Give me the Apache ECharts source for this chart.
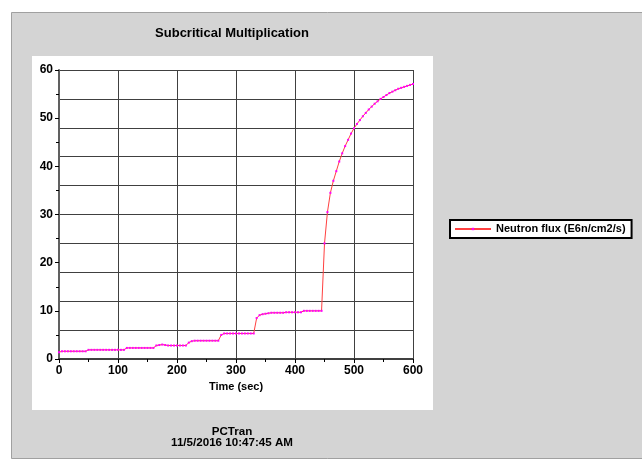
<!DOCTYPE html>
<html>
<head>
<meta charset="utf-8">
<script src="https://cdn.jsdelivr.net/npm/echarts@6/dist/echarts.min.js"></script>
<style>
  html, body { margin: 0; padding: 0; background: #fff; }
  #chart { width: 642px; height: 463px; }
</style>
</head>
<body>
<div id="chart"></div>
<script>
// time in seconds, 5 s steps
const timeSec = [];
for (let t = 0; t <= 600; t += 5) timeSec.push(t);

// neutron flux (E6n/cm2/s)
const neutronFlux = [
  1.4, 1.6, 1.6, 1.6, 1.6, 1.6, 1.6, 1.6, 1.6, 1.6,      // 0-45
  1.9, 1.9, 1.9, 1.9, 1.9, 1.9, 1.9, 1.9, 1.9, 1.9,      // 50-95
  1.9, 1.9, 1.9, 2.3, 2.3, 2.3, 2.3, 2.3, 2.3, 2.3,      // 100-145
  2.3, 2.3, 2.3, 2.8, 2.9, 3.0, 2.9, 2.8, 2.8, 2.8,      // 150-195
  2.8, 2.8, 2.8, 2.8, 3.4, 3.7, 3.8, 3.8, 3.8, 3.8,      // 200-245
  3.8, 3.8, 3.8, 3.8, 3.8, 5.0, 5.3, 5.3, 5.3, 5.3,      // 250-295
  5.3, 5.3, 5.3, 5.3, 5.3, 5.3, 5.3, 8.5, 9.1, 9.3,      // 300-345
  9.4, 9.5, 9.6, 9.6, 9.6, 9.6, 9.6, 9.7, 9.7, 9.7,      // 350-395
  9.7, 9.7, 9.7, 10.0, 10.0, 10.0, 10.0, 10.0, 10.0, 10.0, // 400-445
  24.0, 30.5, 34.5, 37.0, 39.0, 41.0, 42.7, 44.2, 45.5, 46.8, // 450-495
  47.9, 48.8, 49.6, 50.4, 51.1, 51.8, 52.4, 53.0, 53.5, 54.0, // 500-545
  54.4, 54.8, 55.2, 55.5, 55.8, 56.1, 56.3, 56.5, 56.7, 56.9, // 550-595
  57.1                                                     // 600
];

const seriesName = 'Neutron flux (E6n/cm2/s)';
const fontFamily = '"Liberation Sans", Arial, sans-serif';

const chart = echarts.init(document.getElementById('chart'));

const option = {
  animation: false,
  backgroundColor: '#ffffff',
  graphic: [
    // gray outer panel
    {
      type: 'rect', z: -10, silent: true,
      shape: { x: 11.5, y: 12.5, width: 660, height: 446 },
      style: { fill: '#d4d4d4', stroke: '#a0a0a0', lineWidth: 1 }
    },
    // white plot panel
    {
      type: 'rect', z: -9, silent: true,
      shape: { x: 32, y: 56, width: 401, height: 354 },
      style: { fill: '#ffffff' }
    },
    {
      type: 'text', silent: true,
      style: {
        text: 'Subcritical Multiplication', x: 232, y: 33,
        align: 'center', verticalAlign: 'middle',
        font: 'bold 13px ' + fontFamily, fill: '#000'
      }
    },
    {
      type: 'text', silent: true,
      style: {
        text: 'PCTran', x: 232, y: 432,
        align: 'center', verticalAlign: 'middle',
        font: 'bold 11.6px ' + fontFamily, fill: '#000'
      }
    },
    {
      type: 'text', silent: true,
      style: {
        text: '11/5/2016 10:47:45 AM', x: 232, y: 443,
        align: 'center', verticalAlign: 'middle',
        font: 'bold 11.6px ' + fontFamily, fill: '#000'
      }
    }
  ],
  legend: {
    data: [seriesName],
    left: 450,
    top: 220,
    backgroundColor: '#ffffff',
    borderColor: '#000000',
    borderWidth: 2,
    borderRadius: 0,
    padding: [3, 6, 3, 4],
    itemWidth: 36,
    itemHeight: 3,
    textStyle: { fontFamily: fontFamily, fontWeight: 'bold', fontSize: 11, color: '#000', lineHeight: 12 }
  },
  grid: {
    left: 59,
    top: 70,
    width: 354,
    height: 289,
    containLabel: false
  },
  xAxis: {
    type: 'value',
    min: 0,
    max: 600,
    interval: 100,
    name: 'Time (sec)',
    nameLocation: 'middle',
    nameGap: 22,
    nameTextStyle: { fontFamily: fontFamily, fontWeight: 'bold', fontSize: 11, color: '#000' },
    axisLine: { lineStyle: { color: '#404040', width: 2 } },
    axisTick: { show: true, length: 4, lineStyle: { color: '#000' } },
    minorTick: { show: true, splitNumber: 2, length: 3, lineStyle: { color: '#000' } },
    axisLabel: { fontFamily: fontFamily, fontWeight: 'bold', fontSize: 12, color: '#000', margin: 6 },
    splitLine: { show: true, lineStyle: { color: '#404040', width: 1 } }
  },
  yAxis: [
    {
      type: 'value',
      min: 0,
      max: 60,
      interval: 10,
      position: 'left',
      axisLine: { show: true, lineStyle: { color: '#606060', width: 2 } },
      axisTick: { show: true, length: 4, lineStyle: { color: '#000' } },
      minorTick: { show: true, splitNumber: 2, length: 3, lineStyle: { color: '#000' } },
      axisLabel: { fontFamily: fontFamily, fontWeight: 'bold', fontSize: 12, color: '#000', margin: 6 },
      splitLine: { show: false }
    },
    {
      type: 'value',
      min: 0,
      max: 60,
      interval: 6,
      position: 'right',
      axisLine: { show: false },
      axisTick: { show: false },
      axisLabel: { show: false },
      splitLine: { show: true, lineStyle: { color: '#404040', width: 1 } }
    }
  ],
  series: [
    {
      name: seriesName,
      type: 'line',
      yAxisIndex: 0,
      data: timeSec.map((t, i) => [t, neutronFlux[i]]),
      symbol: 'rect',
      symbolSize: 2,
      showAllSymbol: true,
      itemStyle: { color: '#ff00ff' },
      lineStyle: { color: '#ff4040', width: 1 }
    }
  ]
};

chart.setOption(option);
</script>
</body>
</html>
